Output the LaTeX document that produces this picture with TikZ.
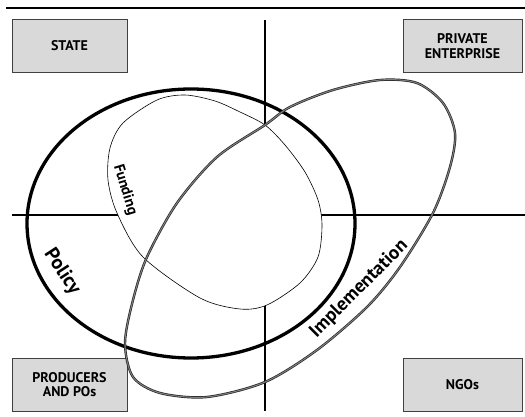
\documentclass[tikz,border=0pt]{standalone}
\usepackage{fontspec}
\setmainfont{PT Sans}
\begin{document}
\begin{tikzpicture}[x=1pt,y=-1pt]
  \tikzstyle{actor}=[draw=black!75,fill=black!15,line width=0.8pt,minimum width=115pt,minimum height=53pt,align=center,inner sep=0pt,font=\fontsize{14}{14.5}\selectfont\bfseries]
  \tikzstyle{axis}=[line width=1.7pt]
  \tikzstyle{sphere}=[inner sep=0pt]
\useasboundingbox (0,0) rectangle (525,417);
% frame line and axes
\coordinate (rulel) at (6,8); \coordinate (ruler) at (525,8);
\coordinate (west) at (12,215); \coordinate (east) at (525,215);
\coordinate (north) at (265,20); \coordinate (south) at (265,411);
\draw[line width=1.3pt] (rulel) -- (ruler);
\draw[axis] (west) -- (east);
\draw[axis] (north) -- (south);
% actors
\node[actor] (state) at (69.5,46) {STATE};
\node[actor,minimum width=119pt] (private) at (462.5,46) {PRIVATE\\ENTERPRISE};
\node[actor] (producers) at (69.5,384.5) {PRODUCERS\\AND POs};
\node[actor,minimum width=119pt] (ngos) at (462.5,384.5) {NGOs};
% funding
\draw[fill=white,line width=0.6pt] plot[smooth cycle] coordinates {(108,180) (110,148) (123,123) (157,100) (185,95) (215,101) (240,112) (265,125) (285,145) (305,172) (318,200) (322,225) (318,257) (300,283) (267,305) (240,309) (200,298) (143,257) (117,213)};
% policy
\draw[line width=3.3pt] (191,223.5) ellipse [x radius=164,y radius=134.5];
% implementation
\draw[draw=black!85,double=black!50,double distance=1pt,line width=0.7pt] plot[smooth cycle] coordinates {(125,343) (133,300) (147,257) (177,203) (217,157) (265,125) (290,107) (333,90) (380,80) (417,83) (443,103) (455,133) (450,167) (433,213) (400,267) (367,307) (317,350) (265,382) (207,397) (160,393) (133,377)};
% labels
\node[sphere,rotate=-73,font=\fontsize{15}{15}\selectfont\bfseries] (funding) at (125,190) {Funding};
\node[sphere,rotate=-57,font=\fontsize{20}{20}\selectfont\bfseries] (policy) at (62,272) {Policy};
\node[sphere,rotate=45,font=\fontsize{19}{19}\selectfont\bfseries] (implementation) at (359,289) {Implementation};
\end{tikzpicture}
\end{document}
